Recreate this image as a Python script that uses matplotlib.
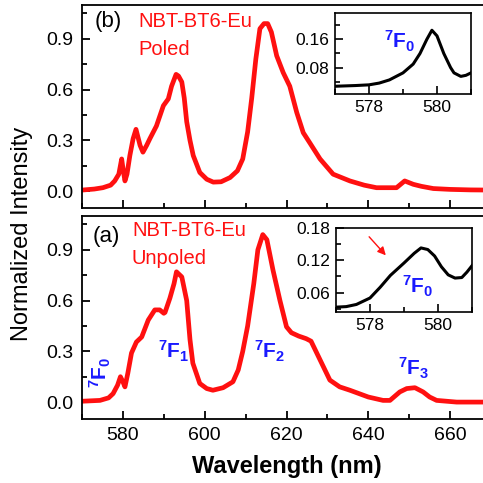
import matplotlib
matplotlib.use("Agg")
import matplotlib.pyplot as plt
from matplotlib.ticker import MultipleLocator

plt.rcParams['font.family'] = ['Liberation Sans', 'DejaVu Sans']
plt.rcParams['mathtext.fontset'] = 'custom'
plt.rcParams['mathtext.rm'] = 'Liberation Sans'
plt.rcParams['mathtext.bf'] = 'Liberation Sans:bold'

# ---- data ----
wl_poled = [570, 573, 575.1, 577, 578, 579, 579.7, 580.1, 580.5, 581.0, 581.7, 582.5, 583.2,
            584.2, 584.9, 585.8, 586.6, 588.2, 589.9, 591.1, 591.9, 593.0, 593.6, 594.4,
            595.0, 595.6, 596.4, 597.2, 598.8, 600.5, 602.1, 604, 606.2, 608, 609.3, 610.5,
            611.5, 612.5, 613.5, 614.5, 615.4, 616.3, 617.6, 619.2, 620.8, 622.5, 624.1,
            625.7, 628.2, 631.4, 635.5, 639, 642, 646.9, 648.9, 651, 653, 655.9, 660, 665, 670]
int_poled = [0.006, 0.012, 0.02, 0.035, 0.06, 0.10, 0.19, 0.12, 0.06, 0.10, 0.21, 0.31, 0.365,
             0.27, 0.23, 0.27, 0.31, 0.385, 0.505, 0.545, 0.62, 0.69, 0.68, 0.645,
             0.55, 0.41, 0.30, 0.21, 0.11, 0.07, 0.053, 0.055, 0.08, 0.12, 0.19, 0.35,
             0.55, 0.78, 0.96, 0.99, 0.99, 0.94, 0.80, 0.70, 0.62, 0.465, 0.345,
             0.285, 0.19, 0.10, 0.06, 0.035, 0.02, 0.02, 0.06, 0.04, 0.028, 0.015, 0.01, 0.007, 0.006]

wl_unpoled = [570, 574.4, 576.5, 577.6, 578.7, 579.4, 580.0, 580.5, 581.2, 582.1, 583.3,
              584.6, 586.2, 587.8, 589.0, 590.0, 590.3, 591.5, 592.5, 593.1, 594.4, 595.6,
              596.4, 597.1, 598.8, 600.5, 602, 604.5, 606.9, 608.2, 609.3, 610.5, 612, 613,
              614.2, 615.2, 616.7, 618.4, 620, 621.2, 623, 624.8, 626, 628.2, 630.6, 633,
              635.5, 640, 643.6, 645.3, 647.7, 649.4, 651.4, 653.4, 655, 656.7, 661.6, 670]
int_unpoled = [0.005, 0.01, 0.025, 0.05, 0.10, 0.15, 0.12, 0.09, 0.17, 0.29, 0.355,
               0.385, 0.485, 0.545, 0.545, 0.525, 0.53, 0.615, 0.70, 0.77, 0.74, 0.60,
               0.37, 0.23, 0.11, 0.08, 0.07, 0.085, 0.12, 0.19, 0.30, 0.45, 0.70, 0.90,
               0.99, 0.96, 0.78, 0.60, 0.445, 0.41, 0.39, 0.375, 0.36, 0.25, 0.13, 0.09,
               0.07, 0.03, 0.01, 0.01, 0.06, 0.08, 0.085, 0.06, 0.03, 0.01, 0.0, 0.0]

wl_inset_b = [577, 577.3, 577.6, 578, 578.3, 578.6, 579, 579.3, 579.5, 579.7, 579.85, 580.0,
              580.2, 580.4, 580.5, 580.7, 580.85, 581]
int_inset_b = [0.027, 0.028, 0.029, 0.031, 0.036, 0.045, 0.065, 0.09, 0.12, 0.16, 0.186, 0.17,
               0.12, 0.08, 0.065, 0.055, 0.058, 0.065]

wl_inset_a = [577, 577.3, 577.6, 578, 578.3, 578.6, 579, 579.3, 579.5, 579.7, 579.9, 580.1,
              580.3, 580.5, 580.7, 580.85, 581]
int_inset_a = [0.033, 0.034, 0.038, 0.05, 0.07, 0.092, 0.115, 0.133, 0.143, 0.14, 0.128, 0.108,
               0.093, 0.087, 0.088, 0.098, 0.11]

RED = '#ff1010'
BLUE = '#1a1aff'
W, H = 483, 483
fig = plt.figure(figsize=(W / 100, H / 100), dpi=100)


def fr(x0, y0, x1, y1):
    return [x0 / W, 1 - y1 / H, (x1 - x0) / W, (y1 - y0) / H]


def style(ax, xmaj, xmin, ymaj, ymin, size, lw=1.3, pad=4):
    ax.xaxis.set_major_locator(MultipleLocator(xmaj))
    ax.xaxis.set_minor_locator(MultipleLocator(xmin))
    ax.yaxis.set_major_locator(MultipleLocator(ymaj))
    ax.yaxis.set_minor_locator(MultipleLocator(ymin))
    ax.tick_params(which='both', direction='in', top=False, right=False, width=lw,
                   labelsize=size, pad=pad)
    ax.tick_params(which='major', length=6)
    ax.tick_params(which='minor', length=3.5)
    for s in ax.spines.values():
        s.set_linewidth(lw)


ax_b = fig.add_axes(fr(82, 5, 491, 208))
ax_a = fig.add_axes(fr(82, 216, 491, 419))
for ax in (ax_b, ax_a):
    ax.set_xlim(570, 670)
    ax.set_ylim(-0.1, 1.1)
    style(ax, 20, 10, 0.3, 0.15, 14, pad=6)
    ax.set_yticks([0.0, 0.3, 0.6, 0.9])
    ax.set_yticklabels(['0.0', '0.3', '0.6', '0.9'])
ax_b.tick_params(labelbottom=False)

ax_b.plot(wl_poled, int_poled, color=RED, lw=3.4, solid_joinstyle='round')
ax_a.plot(wl_unpoled, int_unpoled, color=RED, lw=3.4, solid_joinstyle='round')

ax_b.text(0.031, 0.92, '(b)', transform=ax_b.transAxes, fontsize=16, va='center')
ax_b.text(0.137, 0.92, 'NBT-BT6-Eu', transform=ax_b.transAxes, fontsize=14.5, color=RED, va='center')
ax_b.text(0.137, 0.78, 'Poled', transform=ax_b.transAxes, fontsize=14.5, color=RED, va='center')
ax_a.text(0.025, 0.90, '(a)', transform=ax_a.transAxes, fontsize=16, va='center')
ax_a.text(0.122, 0.93, 'NBT-BT6-Eu', transform=ax_a.transAxes, fontsize=14.5, color=RED, va='center')
ax_a.text(0.122, 0.79, 'Unpoled', transform=ax_a.transAxes, fontsize=14.5, color=RED, va='center')

lab = dict(color=BLUE, fontsize=15, fontweight='bold', ha='center', va='center')
ax_a.text(574.5, 0.175, r'$\mathbf{^7F_0}$', rotation=90, **lab)
ax_a.text(592.5, 0.30, r'$\mathbf{^7F_1}$', **lab)
ax_a.text(616, 0.30, r'$\mathbf{^7F_2}$', **lab)
ax_a.text(651, 0.20, r'$\mathbf{^7F_3}$', **lab)

fig.text(22 / W, 1 - 234 / H, 'Normalized Intensity', rotation=90, fontsize=17,
         ha='center', va='center')
fig.text(287 / W, 1 - 467 / H, 'Wavelength (nm)', fontsize=17, fontweight='bold',
         ha='center', va='center')

# insets
in_b = fig.add_axes(fr(335, 13, 471, 94))
in_b.plot(wl_inset_b, int_inset_b, color='black', lw=2.2)
in_b.set_xlim(577, 581)
in_b.set_ylim(0.005, 0.235)
style(in_b, 2, 1, 0.08, 0.04, 12.5, lw=1.2)
in_b.set_yticks([0.08, 0.16])
in_b.set_yticklabels(['0.08', '0.16'])
in_b.text(578.9, 0.155, r'$\mathbf{^7F_0}$', color=BLUE, fontsize=15, ha='center', va='center')

in_a = fig.add_axes(fr(336, 228, 472, 312))
in_a.plot(wl_inset_a, int_inset_a, color='black', lw=2.2)
in_a.set_xlim(577, 581)
in_a.set_ylim(0.024, 0.18)
style(in_a, 2, 1, 0.06, 0.03, 12.5, lw=1.2)
in_a.set_yticks([0.06, 0.12, 0.18])
in_a.set_yticklabels(['0.06', '0.12', '0.18'])
in_a.text(579.4, 0.072, r'$\mathbf{^7F_0}$', color=BLUE, fontsize=15, ha='center', va='center')
in_a.annotate('', xy=(0.38, 0.65), xytext=(0.23, 0.92), xycoords='axes fraction',
              arrowprops=dict(arrowstyle='-|>', color=RED, lw=1, mutation_scale=12))

fig.savefig('out.png', dpi=100)
